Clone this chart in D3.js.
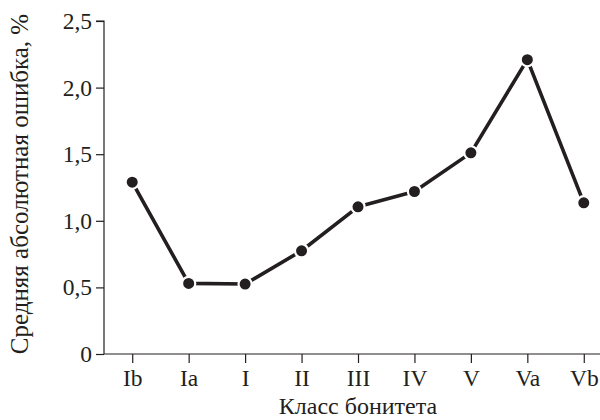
<!DOCTYPE html>
<html>
<head>
<meta charset="utf-8">
<script src="https://cdn.jsdelivr.net/npm/d3@7"></script>
<style>
  html, body { margin: 0; padding: 0; background: #fff; }
  svg { display: block; font-family: "Liberation Serif", "Times New Roman", serif; }
</style>
</head>
<body>
<svg id="chart" width="600" height="420"></svg>
<script>
const categories = ["Ib", "Ia", "I", "II", "III", "IV", "V", "Va", "Vb"];
const errorValues = [1.29, 0.53, 0.525, 0.775, 1.105, 1.22, 1.51, 2.21, 1.135];
const yTicks = [0, 0.5, 1.0, 1.5, 2.0, 2.5];
const yTickLabels = ["0", "0,5", "1,0", "1,5", "2,0", "2,5"];
const xTitle = "Класс бонитета";
const yTitle = "Средняя абсолютная ошибка, %";

(function () {
const svg = d3.select("#chart");
const mLeft = 104, mRight = 612, mTop = 21, mBottom = 354;
const ink = "#231f20";

const x = d3.scalePoint().domain(categories).range([mLeft, mRight]).padding(0.5);
const y = d3.scaleLinear().domain([0, 2.5]).range([mBottom, mTop]);

// Y axis
const yAxis = svg.append("g")
  .attr("transform", `translate(${mLeft},0)`)
  .call(d3.axisLeft(y).tickValues(yTicks).tickSize(8).tickPadding(4)
    .tickFormat((d, i) => yTickLabels[i]));
yAxis.select(".domain").attr("d", `M-8,${mTop}H0V${mBottom}`);

// X axis
const xAxis = svg.append("g")
  .attr("transform", `translate(0,${mBottom})`)
  .call(d3.axisBottom(x).tickSize(9).tickPadding(6));
xAxis.select(".domain").attr("d", `M${mLeft},0H600`);

svg.selectAll(".tick line, .domain").attr("stroke", ink).attr("stroke-width", 1.2);
svg.selectAll(".tick text").attr("fill", ink).attr("font-size", 23.5)
  .attr("font-family", "Liberation Serif, serif");

// Line
const line = d3.line().x((d, i) => x(categories[i])).y(d => y(d));
svg.append("path")
  .datum(errorValues)
  .attr("d", line)
  .attr("fill", "none")
  .attr("stroke", ink)
  .attr("stroke-width", 3.6)
  .attr("stroke-linejoin", "round");

// Points with white halo
svg.append("g").selectAll("circle")
  .data(errorValues)
  .join("circle")
  .attr("cx", (d, i) => x(categories[i]))
  .attr("cy", d => y(d))
  .attr("r", 6.6)
  .attr("fill", ink)
  .attr("stroke", "#fff")
  .attr("stroke-width", 2.2);

// Titles
svg.append("text")
  .attr("x", (mLeft + mRight) / 2)
  .attr("y", 414)
  .attr("text-anchor", "middle")
  .attr("font-size", 24)
  .attr("fill", ink)
  .text(xTitle);

svg.append("text")
  .attr("transform", `translate(28,184) rotate(-90)`)
  .attr("text-anchor", "middle")
  .attr("font-size", 25)
  .attr("fill", ink)
  .text(yTitle);
})();
</script>
</body>
</html>
